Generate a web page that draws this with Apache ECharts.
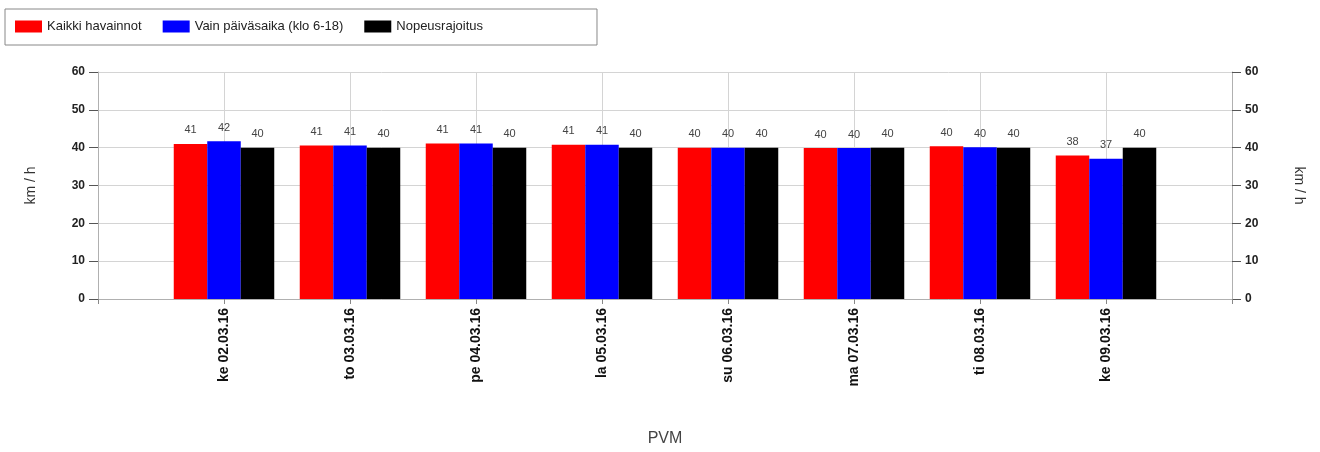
<!DOCTYPE html>
<html>
<head>
<meta charset="utf-8">
<script src="https://cdn.jsdelivr.net/npm/echarts@6/dist/echarts.min.js"></script>
<style>
html,body{margin:0;padding:0;background:#fff;}
#chart{width:1320px;height:452px;}
</style>
</head>
<body>
<div id="chart"></div>
<script>
const categories = ['ke 02.03.16','to 03.03.16','pe 04.03.16','la 05.03.16','su 06.03.16','ma 07.03.16','ti 08.03.16','ke 09.03.16'];
const kaikki = [41.0, 40.6, 41.1, 40.8, 40.0, 39.9, 40.4, 37.9];
const paiva = [41.7, 40.6, 41.1, 40.8, 40.0, 39.9, 40.1, 37.1];
const raja = [40, 40, 40, 40, 40, 40, 40, 40];
const seriesNames = ['Kaikki havainnot','Vain päiväsaika (klo 6-18)','Nopeusrajoitus'];
const colors = ['#ff0000','#0000ff','#000000'];
const yTicks = {min:0, max:60, interval:10};
const axisName = 'km / h';
const xName = 'PVM';

// pad with empty slots at both ends so categories sit on grid lines
const xData = [''].concat(categories, ['']);
function pad(arr){ return [null].concat(arr, [null]); }

const FONT = '"Liberation Sans", Arial, sans-serif';
const chart = echarts.init(document.getElementById('chart'), null, {renderer:'canvas'});

function yAxis(pos, rot){
  return {
    type:'value', position:pos, min:yTicks.min, max:yTicks.max, interval:yTicks.interval,
    name:axisName, nameLocation:'middle', nameGap:60, nameRotate:rot,
    nameTextStyle:{fontFamily:FONT, fontSize:14, color:'#333'},
    axisLine:{show:true, lineStyle:{color:'#b0b0b0', width:1}},
    axisTick:{show:true, length:9, lineStyle:{color:'#555'}},
    axisLabel:{fontFamily:FONT, fontSize:12, fontWeight:'bold', color:'#222', margin:13},
    splitLine:{show: pos==='left', lineStyle:{color:'#d4d4d4', width:1}}
  };
}

const series = [kaikki, paiva, raja].map((d,i)=>({
  name:seriesNames[i], type:'bar', data:pad(d), barWidth:33.5, barGap:'0%',
  yAxisIndex:0,
  itemStyle:{color:colors[i]},
  label:{show:true, position:'top', distance:8, fontFamily:FONT, fontSize:11, color:'#444',
    formatter:p=>Math.round(p.value)}
}));

chart.setOption({
  animation:false,
  backgroundColor:'#fff',
  textStyle:{fontFamily:FONT},
  legend:{
    left:5, top:9, orient:'horizontal',
    data:seriesNames.map((n,i)=>({name:n, icon:'rect', itemStyle:{color:colors[i]}})),
    itemWidth:27, itemHeight:12, itemGap:21,
    padding:[11,114,12,10],
    borderColor:'#888', borderWidth:1, borderRadius:0,
    textStyle:{fontFamily:FONT, fontSize:13, color:'#222', padding:[0,0,0,0]},
    selectedMode:false
  },
  grid:{left:98, right:88, top:72, bottom:151.5, containLabel:false},
  xAxis:{
    type:'category', data:xData, boundaryGap:false,
    name:xName, nameLocation:'middle', nameGap:132,
    nameTextStyle:{fontFamily:FONT, fontSize:16, color:'#444'},
    axisLine:{show:true, lineStyle:{color:'#b0b0b0'}},
    axisTick:{show:true, length:5, lineStyle:{color:'#888'}, interval:0},
    axisLabel:{rotate:90, interval:0, fontFamily:FONT, fontSize:14, fontWeight:'bold', color:'#111', margin:9},
    splitLine:{show:true, interval:0, lineStyle:{color:'#d4d4d4'}}
  },
  yAxis:[yAxis('left',90), yAxis('right',-90)],
  series:series
});
</script>
</body>
</html>
